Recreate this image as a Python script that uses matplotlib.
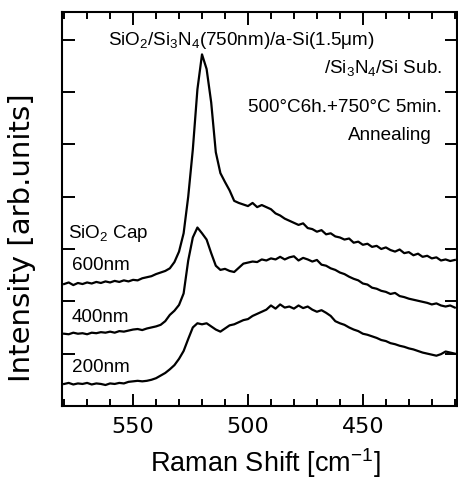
import numpy as np
import matplotlib
matplotlib.use("Agg")
import matplotlib.pyplot as plt
from matplotlib.ticker import MultipleLocator

plt.rcParams['font.family'] = ['Liberation Sans', 'DejaVu Sans']
plt.rcParams['mathtext.fontset'] = 'custom'
plt.rcParams['mathtext.rm'] = 'Liberation Sans'
plt.rcParams['mathtext.it'] = 'Liberation Sans'
plt.rcParams['mathtext.default'] = 'regular'

raman_shift = list(range(580, 408, -2))

cap_600nm = [2.33, 2.36, 2.31, 2.35, 2.33, 2.36, 2.34, 2.37, 2.35, 2.38,
             2.36, 2.39, 2.37, 2.40, 2.38, 2.41, 2.40, 2.44, 2.46, 2.48,
             2.52, 2.55, 2.58, 2.63, 2.75, 2.95, 3.30, 4.00, 4.90, 6.05,
             6.72, 6.44, 5.80, 4.85, 4.45, 4.28, 4.12, 3.92, 3.88, 3.85,
             3.82, 3.88, 3.80, 3.84, 3.80, 3.76, 3.68, 3.64, 3.58, 3.54,
             3.50, 3.46, 3.49, 3.40, 3.38, 3.33, 3.36, 3.28, 3.30, 3.24,
             3.22, 3.18, 3.20, 3.12, 3.14, 3.08, 3.10, 3.04, 3.06, 3.00,
             3.03, 2.98, 2.95, 2.99, 2.92, 2.94, 2.88, 2.91, 2.85, 2.87,
             2.82, 2.84, 2.78, 2.80, 2.77, 2.79]

cap_400nm = [1.38, 1.37, 1.40, 1.38, 1.39, 1.37, 1.40, 1.39, 1.41, 1.40,
             1.42, 1.40, 1.43, 1.42, 1.44, 1.46, 1.47, 1.45, 1.48, 1.50,
             1.52, 1.55, 1.62, 1.74, 1.82, 1.93, 2.15, 2.78, 3.22, 3.41,
             3.30, 3.18, 2.92, 2.68, 2.60, 2.62, 2.58, 2.56, 2.64, 2.72,
             2.74, 2.76, 2.75, 2.80, 2.78, 2.82, 2.80, 2.85, 2.80, 2.84,
             2.86, 2.78, 2.83, 2.80, 2.76, 2.79, 2.70, 2.68, 2.63, 2.60,
             2.55, 2.52, 2.47, 2.43, 2.40, 2.34, 2.32, 2.26, 2.24, 2.20,
             2.18, 2.14, 2.16, 2.10, 2.08, 2.05, 2.03, 2.01, 1.99, 1.97,
             1.94, 1.96, 1.92, 1.90, 1.92, 1.88]

cap_200nm = [0.42, 0.44, 0.41, 0.43, 0.42, 0.44, 0.41, 0.43, 0.42, 0.40,
             0.43, 0.42, 0.44, 0.43, 0.46, 0.47, 0.48, 0.47, 0.48, 0.50,
             0.53, 0.58, 0.63, 0.70, 0.78, 0.90, 1.05, 1.28, 1.50, 1.58,
             1.56, 1.58, 1.52, 1.46, 1.42, 1.48, 1.54, 1.56, 1.60, 1.64,
             1.66, 1.72, 1.76, 1.80, 1.84, 1.92, 1.86, 1.94, 1.88, 1.90,
             1.86, 1.92, 1.87, 1.90, 1.84, 1.80, 1.83, 1.78, 1.72, 1.62,
             1.58, 1.55, 1.50, 1.46, 1.43, 1.38, 1.36, 1.33, 1.30, 1.26,
             1.24, 1.20, 1.18, 1.15, 1.13, 1.10, 1.08, 1.05, 1.02, 1.00,
             0.98, 0.96, 0.99, 1.04, 1.02, 1.00]

series = [cap_600nm, cap_400nm, cap_200nm]
series_labels = ['600nm', '400nm', '200nm']
xtick_values = [550, 500, 450]

fig = plt.figure(figsize=(4.58, 4.81), dpi=100)
ax = fig.add_axes([0.135, 0.154, 0.863, 0.819])

for ys in series:
    ax.plot(raman_shift, ys, color='black', lw=1.6)

ax.set_xlim(581, 409)
ax.set_ylim(0, 7.53)
ax.set_xticks(xtick_values)
ax.xaxis.set_minor_locator(MultipleLocator(10))
ax.set_yticks([1, 2, 3, 4, 5, 6, 7])
ax.set_yticklabels([])
ax.tick_params(which='both', direction='in', top=True, right=True, width=1.4, color='black')
ax.tick_params(which='major', length=9, pad=7)
ax.tick_params(which='minor', length=5)
for lab in ax.get_xticklabels():
    lab.set_family('DejaVu Sans')
    lab.set_fontsize(16)
for s in ax.spines.values():
    s.set_linewidth(1.5)

ax.set_xlabel('Raman Shift [cm$^{-1}$]', fontsize=19.5)
ax.xaxis.set_label_coords(0.515, -0.10)
ax.set_ylabel('Intensity [arb.units]', fontsize=21, family='DejaVu Sans')
ax.yaxis.set_label_coords(-0.065, 0.43)

tfs = 13.6
ax.text(0.455, 0.93, 'SiO$_2$/Si$_3$N$_4$(750nm)/a-Si(1.5μm)', transform=ax.transAxes,
        ha='center', va='center', fontsize=tfs)
ax.text(0.962, 0.86, '/Si$_3$N$_4$/Si Sub.', transform=ax.transAxes,
        ha='right', va='center', fontsize=tfs)
ax.text(0.962, 0.761, '500°C6h.+750°C 5min.', transform=ax.transAxes,
        ha='right', va='center', fontsize=tfs)
ax.text(0.937, 0.69, 'Annealing', transform=ax.transAxes,
        ha='right', va='center', fontsize=tfs)
ax.text(0.015, 0.44, 'SiO$_2$ Cap', transform=ax.transAxes,
        ha='left', va='center', fontsize=tfs)
label_pos = [0.36, 0.226, 0.099]
for lab, yp in zip(series_labels, label_pos):
    ax.text(0.025, yp, lab, transform=ax.transAxes, ha='left', va='center', fontsize=tfs)

fig.savefig('out.png', dpi=100)
